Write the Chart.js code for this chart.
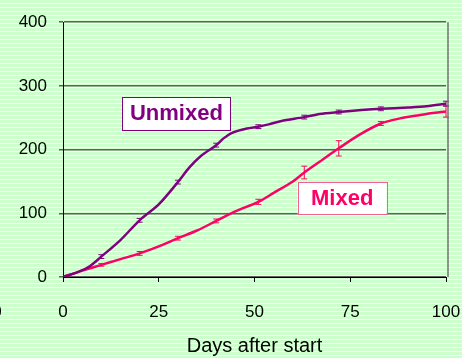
<!DOCTYPE html>
<html>
<head>
<meta charset="utf-8">
<script src="https://cdn.jsdelivr.net/npm/chart.js@4.4.1/dist/chart.umd.min.js"></script>
<style>
  html, body { margin: 0; padding: 0; }
  body {
    width: 462px; height: 358px; overflow: hidden;
    background: repeating-linear-gradient(to bottom, #ccffcc 0px, #ccffcc 3px, #ffffff 3px, #ffffff 4px);
  }
  canvas { display: block; }
</style>
</head>
<body>
<canvas id="chart" width="462" height="358"></canvas>
<script>
// Unmixed series (days, value, error)
const unmixedDays   = [0, 4, 7, 10, 15, 20, 25, 30, 33, 36, 40, 42, 44, 48, 51, 54, 57, 63, 67, 72, 78, 83, 90, 95, 100];
const unmixedValues = [0, 8, 17, 32, 58, 89, 114, 149, 172, 190, 207, 218, 226, 233, 236, 240, 245, 251, 256, 259, 262, 264, 266, 268, 272];
const unmixedErrors = [0, 0, 0, 3, 0, 3, 0, 3, 0, 0, 3, 0, 0, 0, 3, 0, 0, 3, 0, 3, 0, 3, 0, 0, 4];

// Mixed series
const mixedDays   = [0, 5, 10, 15, 20, 25, 30, 35, 40, 45, 51, 55, 60, 63, 67, 72, 77, 83, 88, 92, 96, 100];
const mixedValues = [0, 10, 19, 28, 37, 48, 61, 73, 88, 103, 118, 132, 150, 164, 181, 202, 222, 241, 249, 253, 257, 260];
const mixedErrors = [0, 0, 2, 0, 3, 0, 3, 0, 3, 0, 4, 0, 0, 10, 0, 12, 0, 3, 0, 0, 0, 9];

// axis ticks
const xTicks = [0, 25, 50, 75, 100];
const yTicks = [0, 100, 200, 300, 400];

// text labels placed on the chart (data coords)
const labelTexts  = ["Unmixed", "Mixed"];
const labelDays   = [29.6, 72.9];
const labelValues = [257, 123.4];

const fontFam = "'Liberation Sans', Arial, sans-serif";
const purple = "#800080";
const pink = "#ff0066";

function toPoints(days, vals) {
  return days.map((d, i) => ({ x: d, y: vals[i] }));
}

// error bars, drawn from the dataset's own scales
const errorBars = {
  id: "errorBars",
  afterDatasetsDraw(chart) {
    const ctx = chart.ctx;
    const xs = chart.scales.x, ys = chart.scales.y;
    const sets = [[unmixedDays, unmixedValues, unmixedErrors, purple], [mixedDays, mixedValues, mixedErrors, pink]];
    ctx.save();
    ctx.lineWidth = 1;
    sets.forEach(([days, vals, errs, col]) => {
      ctx.strokeStyle = col;
      days.forEach((d, i) => {
        if (!errs[i]) return;
        const px = xs.getPixelForValue(d);
        const top = ys.getPixelForValue(vals[i] + errs[i]);
        const bot = ys.getPixelForValue(vals[i] - errs[i]);
        ctx.beginPath();
        ctx.moveTo(px, top); ctx.lineTo(px, bot);
        ctx.moveTo(px - 3, top); ctx.lineTo(px + 3, top);
        ctx.moveTo(px - 3, bot); ctx.lineTo(px + 3, bot);
        ctx.stroke();
      });
    });
    ctx.restore();
  }
};

// boxed series names + right frame line
const boxLabels = {
  id: "boxLabels",
  afterDraw(chart) {
    const ctx = chart.ctx;
    const xs = chart.scales.x, ys = chart.scales.y;
    const area = chart.chartArea;
    ctx.save();
    // right frame
    ctx.strokeStyle = "#707070";
    ctx.lineWidth = 1.5;
    ctx.beginPath();
    ctx.moveTo(area.right + 2, area.top);
    ctx.lineTo(area.right + 2, area.bottom);
    ctx.stroke();

    const boxW = [108, 89], boxH = [33, 32];
    const textCol = [purple, pink], edgeCol = [purple, "#f06090"];
    labelTexts.forEach((t, i) => {
      const cx = xs.getPixelForValue(labelDays[i]);
      const cy = ys.getPixelForValue(labelValues[i]);
      ctx.fillStyle = "#ffffff";
      ctx.fillRect(cx - boxW[i] / 2, cy - boxH[i] / 2, boxW[i], boxH[i]);
      ctx.strokeStyle = edgeCol[i];
      ctx.lineWidth = 1;
      ctx.strokeRect(Math.round(cx - boxW[i] / 2) + 0.5, Math.round(cy - boxH[i] / 2) + 0.5, boxW[i], boxH[i]);
      ctx.fillStyle = textCol[i];
      ctx.font = "bold 22px " + fontFam;
      ctx.textAlign = "center";
      ctx.textBaseline = "middle";
      ctx.fillText(t, cx, cy + 1);
    });

    // clipped label at the far left edge
    ctx.fillStyle = "#000";
    ctx.font = "17px " + fontFam;
    ctx.textAlign = "center";
    ctx.textBaseline = "middle";
    ctx.fillText("0", -3, 312);
    ctx.restore();
  }
};

new Chart(document.getElementById("chart"), {
  type: "line",
  data: {
    datasets: [
      {
        label: "Unmixed",
        data: toPoints(unmixedDays, unmixedValues),
        borderColor: purple,
        borderWidth: 2.5,
        pointRadius: 0,
        tension: 0.3,
        fill: false
      },
      {
        label: "Mixed",
        data: toPoints(mixedDays, mixedValues),
        borderColor: pink,
        borderWidth: 2.5,
        pointRadius: 0,
        tension: 0.3,
        fill: false
      }
    ]
  },
  options: {
    responsive: false,
    animation: false,
    layout: { padding: { top: 21, right: 2, left: 0, bottom: 0 } },
    plugins: {
      legend: { display: false },
      tooltip: { enabled: false }
    },
    scales: {
      x: {
        type: "linear",
        min: xTicks[0],
        max: xTicks[xTicks.length - 1],
        afterBuildTicks: s => { s.ticks = xTicks.map(v => ({ value: v })); },
        afterFit: s => { s.height = 81; s.paddingRight = 16; s.paddingLeft = 0; },
        ticks: { color: "#000", padding: 20, maxRotation: 0, font: { size: 17, family: fontFam } },
        grid: { drawOnChartArea: false, color: "#000", tickLength: 5 },
        border: { color: "#000", width: 1 },
        title: {
          display: true,
          text: "Days after start",
          color: "#000",
          font: { size: 20, family: fontFam },
          padding: { top: 0, bottom: 0 }
        }
      },
      y: {
        min: yTicks[0],
        max: yTicks[yTicks.length - 1],
        afterBuildTicks: s => { s.ticks = yTicks.map(v => ({ value: v })); },
        afterFit: s => { s.width = 63; },
        ticks: { color: "#000", padding: 12, font: { size: 17, family: fontFam } },
        grid: { color: "#606060", lineWidth: 1.5, tickLength: 4 },
        border: { color: "#000", width: 1 }
      }
    }
  },
  plugins: [errorBars, boxLabels]
});
</script>
</body>
</html>
